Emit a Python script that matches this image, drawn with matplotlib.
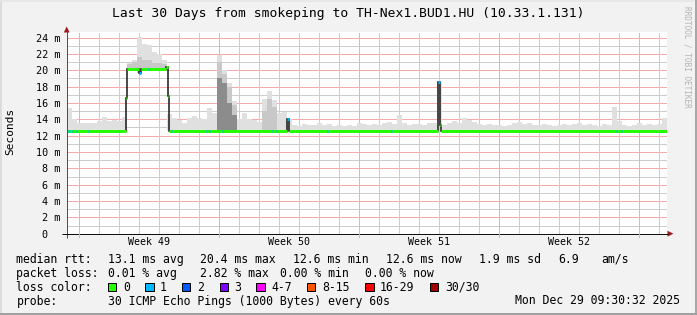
import numpy as np
import matplotlib
matplotlib.use("Agg")
import matplotlib.pyplot as plt
from matplotlib.patches import Rectangle, Polygon

W, H = 697, 315
MONO = "DejaVu Sans Mono"

# ---------------- data ----------------
title = "Last 30 Days from smokeping to TH-Nex1.BUD1.HU (10.33.1.131)"
y_label = "Seconds"
y_ticks = [0, 2, 4, 6, 8, 10, 12, 14, 16, 18, 20, 22, 24]          # milliseconds
y_tick_labels = ["0  ", "2 m", "4 m", "6 m", "8 m", "10 m", "12 m", "14 m",
                 "16 m", "18 m", "20 m", "22 m", "24 m"]
week_labels = ["Week 49", "Week 50", "Week 51", "Week 52"]
week_centers = [4.075, 11.075, 18.075, 25.075]          # days since start
week_bounds = [0.575, 7.575, 14.575, 21.575, 28.575]

# median rtt (ms) as steps: change times (days) and values, loss class per step
med_t = [0.0, 2.965, 3.015, 3.6, 3.7, 4.95, 5.035, 5.115, 11.015, 11.115,
         18.535, 18.65, 18.7, 30.0]
med_v = [12.6, 16.6, 20.1, 19.7, 20.1, 20.4, 16.9, 12.6, 14.0, 12.6, 18.6, 13.3, 12.6]
med_loss = [0, 0, 0, 1, 0, 0, 0, 0, 1, 0, 1, 0, 0]

# short periods with 1 lost ping (days since start)
loss1_t = [0.0, 0.1, 0.25, 0.45, 1.05, 4.05, 5.2, 6.95, 7.1, 7.75, 10.25,
           10.45, 13.0, 16.2, 27.45, 27.7]

# smoke: max ping per 6h bin (ms)
smoke_max = [
    15.4, 14.0, 13.6, 13.5, 13.6, 13.5, 13.8, 14.3, 13.8, 13.9, 13.8, 14.3,
    20.9, 21.2, 24.1, 23.2, 23.1, 22.2, 22.0, 21.3,
    14.6, 14.2, 13.9, 13.6, 14.2, 14.4, 14.1, 14.0, 15.4, 14.8,
    21.9, 20.0, 18.4, 16.2, 14.0, 14.8, 14.0, 13.9, 13.7, 16.5,
    17.5, 16.4, 14.8, 14.9, 14.0, 13.3, 13.2, 13.4, 13.3, 13.3,
    13.5, 13.3, 13.4, 13.2, 13.3, 13.2, 13.3, 13.2, 13.6, 13.4,
    13.3, 13.4, 13.3, 13.5, 13.7, 13.4, 14.5, 13.5, 13.3, 13.4,
    13.4, 13.3, 13.5, 13.6, 13.4, 13.3, 13.5, 13.8, 13.5, 14.1,
    13.9, 13.7, 13.4, 13.3, 13.4, 13.3, 13.3, 13.2, 13.3, 13.6,
    13.7, 13.4, 13.6, 13.3, 13.3, 13.4, 13.3, 13.2, 13.3, 13.4,
    13.3, 13.4, 13.5, 13.3, 13.4, 13.3, 13.2, 13.4, 13.3, 15.5,
    13.8, 13.3, 13.2, 13.3, 13.6, 13.3, 13.4, 13.3, 13.4, 14.1,
]
bin_days = 0.25

# denser smoke (mid grey) and dense smoke (dark grey)
mid_t = [3.0, 3.25, 3.5, 3.75, 4.0, 4.25, 4.5, 4.75, 7.5, 7.75, 8.0, 8.25, 9.75, 10.0, 10.25]
mid_top = [20.8, 21.0, 21.6, 21.2, 21.3, 20.9, 20.9, 20.8, 21.0, 19.6, 18.0, 15.8, 15.0, 16.5, 15.5]
dark_t = [7.5, 7.75, 8.0, 8.25]
dark_top = [19.0, 18.5, 16.0, 14.5]

rtt_head = "median rtt:"
rtt_items = ["13.1 ms avg", "20.4 ms max", "12.6 ms min", "12.6 ms now", "1.9 ms sd", "6.9", "am/s"]
loss_head = "packet loss:"
loss_items = ["0.01 % avg", "2.82 % max", "0.00 % min", "0.00 % now"]
lc_head = "loss color:"
lc_labels = ["0", "1", "2", "3", "4-7", "8-15", "16-29", "30/30"]
lc_colors = ["#26ff00", "#00b8ff", "#0059ff", "#7e00ff", "#ff00ff", "#ff5500", "#ff0000", "#a10000"]
probe_head = "probe:"
probe_text = "30 ICMP Echo Pings (1000 Bytes) every 60s"
stamp = "Mon Dec 29 09:30:32 2025"
watermark = "RRDTOOL / TOBI OETIKER"

# ---------------- figure ----------------
fig = plt.figure(figsize=(W / 100, H / 100), dpi=100)
fig.patch.set_facecolor("#f2f2f2")

L, R, T, B = 67, 667, 32.3, 233.7
ax = fig.add_axes([L / W, 1 - B / H, (R - L) / W, (B - T) / H])
ax.set_facecolor("white")
ax.set_xlim(0, 30)
ax.set_ylim(0, 24.65)
for s in ax.spines.values():
    s.set_visible(False)

px = 72 / 100  # points per pixel
MG = "#f3abab"
GG = "#cdcdcd"

def gline(fn, v, c):
    ln = fn(v, color=c, lw=px, zorder=1)
    ln.set_dashes([1, 1])
    ln.set_antialiased(False)

# grid
for v in range(1, 25):
    gline(ax.axhline, v, MG if v % 2 == 0 else GG)
for d in np.arange(0.575, 30, 1.0):
    major = any(abs(d - wb) < 1e-6 for wb in week_bounds)
    gline(ax.axvline, d, MG if major else GG)

# smoke
med_t_arr = np.array(med_t)
med_v_arr = np.array(med_v)

def med_at(t):
    i = np.searchsorted(med_t_arr, t, side="right") - 1
    i = np.clip(i, 0, len(med_v_arr) - 1)
    return med_v_arr[i]

smoke_left = np.arange(len(smoke_max)) * bin_days
base = med_at(smoke_left + bin_days / 2)
smax = np.array(smoke_max)
ax.bar(smoke_left, smax - base, bottom=base, width=bin_days, align="edge",
       color="#e0e0e0", linewidth=0, zorder=2)
mt = np.array(mid_t)
mb = med_at(mt + bin_days / 2)
ax.bar(mt, np.array(mid_top) - mb, bottom=mb, width=bin_days, align="edge",
       color="#c8c8c8", linewidth=0, zorder=2.1)
dt = np.array(dark_t)
db = med_at(dt + bin_days / 2)
ax.bar(dt, np.array(dark_top) - db, bottom=db, width=bin_days, align="edge",
       color="#8c8c8c", linewidth=0, zorder=2.2)

# median line: dark step outline + loss coloured segments
ax.stairs(med_v, med_t, baseline=None, color="#202020", lw=1.6 * px, zorder=3)
ax.hlines(med_v, med_t[:-1], med_t[1:],
          colors=[lc_colors[l] for l in med_loss], lw=3 * px, capstyle="butt", zorder=4)
lt = np.array(loss1_t)
ax.hlines(med_at(lt + 0.01), lt, lt + 0.06, colors=lc_colors[1], lw=3 * px,
          capstyle="butt", zorder=4.5)

# ticks
ax.set_yticks(y_ticks, y_tick_labels)
ax.set_xticks(week_centers, week_labels)
ax.tick_params(axis="y", length=0, pad=5, labelsize=7.3)
ax.tick_params(axis="x", length=0, pad=2.5, labelsize=7.2)
for lab in ax.get_yticklabels() + ax.get_xticklabels():
    lab.set_fontfamily(MONO)

# ---------------- overlay (pixel coords) ----------------
ov = fig.add_axes([0, 0, 1, 1], facecolor="none")
ov.set_xlim(0, W)
ov.set_ylim(H, 0)
ov.axis("off")

# frame shading
ov.plot([0.5, 0.5], [0, H], color="#d6d6d6", lw=1.5 * px)
ov.plot([0, W], [0.5, 0.5], color="#e6e6e6", lw=1.5 * px)
ov.plot([W - 1, W - 1], [0, H], color="#a8a8a8", lw=2 * px)
ov.plot([0, W], [H - 1.5, H - 1.5], color="#a0a0a0", lw=2 * px)

# axes lines and arrows
ov.plot([66.7, 66.7], [238, 31], color="#505050", lw=1 * px, solid_capstyle="butt")
ov.plot([62, 668], [233.7, 233.7], color="#101010", lw=1 * px, solid_capstyle="butt")
ov.add_patch(Polygon([[66.7, 26.5], [63.8, 32.5], [69.6, 32.5]], closed=True,
                     color="#9b1b1b", lw=0))
ov.add_patch(Polygon([[673.5, 233.7], [667.5, 230.8], [667.5, 236.6]], closed=True,
                     color="#9b1b1b", lw=0))
for d in week_bounds:
    xx = L + d * 20
    ov.plot([xx, xx], [234, 237], color=MG, lw=1 * px)

# titles
fig.text(347.8 / W, 1 - 14 / H, title, ha="center", va="center",
         fontfamily=MONO, fontsize=9.4, color="black")
fig.text(10 / W, 1 - 131 / H, y_label, rotation=90, ha="center", va="center",
         fontfamily=MONO, fontsize=8, color="black")
fig.text(686.5 / W, 1 - 57 / H, watermark, rotation=270, ha="center", va="center",
         fontfamily=MONO, fontsize=5.6, color="#b4b4b4")

FS = 8.3
def put(x, y, s, ha="left"):
    fig.text(x / W, 1 - y / H, s, ha=ha, va="center", fontfamily=MONO,
             fontsize=FS, color="black")

row1, row2, row3, row4 = 259.3, 273.3, 287.3, 301.0
put(16.4, row1, rtt_head)
for s, x in zip(rtt_items, [107.6, 200.4, 292.9, 386.2, 479.1, 557.8, 600.9]):
    put(x, row1, s)
put(16.4, row2, loss_head)
for s, x in zip(loss_items, [107.6, 200.4, 279.6, 365.3]):
    put(x, row2, s)
put(16.4, row3, lc_head)
box_x = [108, 145.3, 182.2, 219.6, 256.4, 307, 365.3, 430.2]
lab_x = [123, 160, 197, 234, 271.6, 322, 380, 444.9]
for c, s, bx, lx in zip(lc_colors, lc_labels, box_x, lab_x):
    ov.add_patch(Rectangle((bx, row3 - 4.2), 8.2, 8.2, facecolor=c,
                           edgecolor="black", lw=1 * px))
    put(lx, row3, s)
put(16.4, row4, probe_head)
put(107.6, row4, probe_text)
put(680, row4, stamp, ha="right")

fig.savefig("out.png", dpi=100, facecolor=fig.get_facecolor())
